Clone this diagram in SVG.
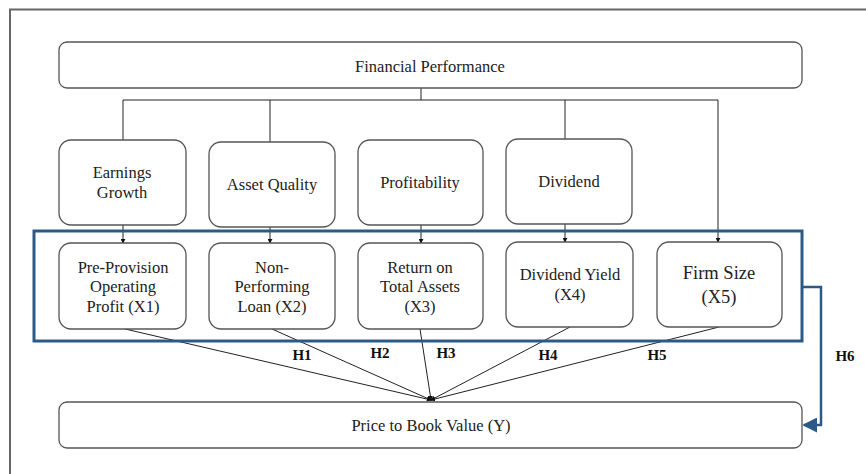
<svg xmlns="http://www.w3.org/2000/svg" width="866" height="474" viewBox="0 0 866 474">
<defs>
<marker id="ah" viewBox="0 0 6 6" refX="5" refY="3" markerWidth="5" markerHeight="5" orient="auto"><path d="M0,0 L6,3 L0,6 z" fill="#111"/></marker>
<marker id="ahb" viewBox="0 0 8 8" refX="7" refY="4" markerWidth="6" markerHeight="6" orient="auto"><path d="M0,0 L8,4 L0,8 z" fill="#2c5a88"/></marker>
</defs>
<style>
.box{fill:#fff;stroke:#555;stroke-width:1.3}
.t{font-size:16.5px;fill:#222;text-anchor:middle}
.h{font-size:15px;font-weight:bold;fill:#111;text-anchor:middle}
.ln{fill:none;stroke:#222;stroke-width:1}
.ar{fill:none;stroke:#222;stroke-width:1;marker-end:url(#ah)}
</style>
<rect width="866" height="474" fill="#fff"/>
<path d="M10,474 V9.5 H866" fill="none" stroke="#666" stroke-width="2"/>

<g id="connectors">
<path class="ln" d="M421,88 V100 M123,100 H718 M270,100 V142 M565,100 V139 M123,100 V140"/>
<path class="ar" d="M123,225 V243"/>
<path class="ar" d="M270,227 V243"/>
<path class="ar" d="M421,225 V243"/>
<path class="ar" d="M565,224 V242"/>
<path class="ar" d="M718,100 V242"/>
<path class="ar" d="M125,329 L431,400"/>
<path class="ar" d="M272,329 L431,400"/>
<path class="ar" d="M420,329 L431,400"/>
<path class="ar" d="M570,327 L431,400"/>
<path class="ar" d="M719,327 L431,400"/>
<path d="M803,287 H821 V425 H804" fill="none" stroke="#2c5a88" stroke-width="2.5" marker-end="url(#ahb)"/>
</g>

<g id="group-box"><rect x="34" y="231" width="768" height="110" fill="none" stroke="#2c5a88" stroke-width="3"/></g>

<g font-family="'Liberation Serif', 'Times New Roman', serif">
<g id="financial-performance"><rect class="box" x="59" y="42" width="743" height="46" rx="8"/><text class="t" x="430" y="72">Financial Performance</text></g>

<g id="earnings-growth"><rect class="box" x="59" y="140" width="127" height="85" rx="12"/><text class="t" x="122" y="178">Earnings</text><text class="t" x="122" y="198">Growth</text></g>
<g id="asset-quality"><rect class="box" x="209" y="142" width="126" height="85" rx="12"/><text class="t" x="272" y="190">Asset Quality</text></g>
<g id="profitability"><rect class="box" x="358" y="140" width="125" height="85" rx="12"/><text class="t" x="420" y="188">Profitability</text></g>
<g id="dividend"><rect class="box" x="506" y="139" width="126" height="85" rx="12"/><text class="t" x="569" y="187">Dividend</text></g>

<g id="x1"><rect class="box" x="59" y="243" width="127" height="86" rx="12"/><text class="t" x="123" y="273">Pre-Provision</text><text class="t" x="123" y="292">Operating</text><text class="t" x="123" y="312">Profit (X1)</text></g>
<g id="x2"><rect class="box" x="209" y="243" width="126" height="86" rx="12"/><text class="t" x="272" y="273">Non-</text><text class="t" x="272" y="292">Performing</text><text class="t" x="272" y="312">Loan (X2)</text></g>
<g id="x3"><rect class="box" x="358" y="243" width="125" height="86" rx="12"/><text class="t" x="420" y="273">Return on</text><text class="t" x="420" y="292">Total Assets</text><text class="t" x="420" y="312">(X3)</text></g>
<g id="x4"><rect class="box" x="506" y="242" width="127" height="85" rx="12"/><text class="t" x="570" y="280">Dividend Yield</text><text class="t" x="570" y="300">(X4)</text></g>
<g id="x5"><rect class="box" x="657" y="242" width="125" height="85" rx="12"/><text class="t" x="719" y="279" style="font-size:18.5px">Firm Size</text><text class="t" x="719" y="303" style="font-size:18.5px">(X5)</text></g>

<g id="price-to-book"><rect class="box" x="59" y="402" width="743" height="46" rx="8"/><text class="t" x="431" y="431">Price to Book Value (Y)</text></g>

<g id="labels">
<text class="h" x="302" y="360">H1</text>
<text class="h" x="380" y="358">H2</text>
<text class="h" x="446" y="358">H3</text>
<text class="h" x="548" y="360">H4</text>
<text class="h" x="657" y="360">H5</text>
<text class="h" x="845" y="361">H6</text>
</g>
</g>
</svg>
